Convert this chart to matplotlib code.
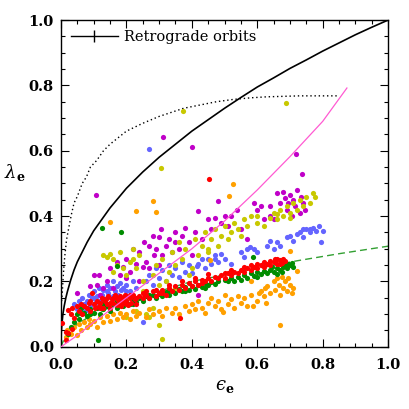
import matplotlib
matplotlib.use("Agg")
import matplotlib.pyplot as plt
import numpy as np
from matplotlib.lines import Line2D
from matplotlib.ticker import MultipleLocator

plt.rcParams['font.family'] = ['DejaVu Serif']
plt.rcParams['mathtext.fontset'] = 'dejavuserif'

# --- curves (eps, lambda) ---
black_eps = [0.0, 0.001, 0.003, 0.006, 0.01, 0.015, 0.02, 0.03, 0.04, 0.05, 0.065, 0.08, 0.1,
             0.125, 0.15, 0.175, 0.2, 0.25, 0.3, 0.35, 0.4, 0.45, 0.5, 0.55, 0.6, 0.65, 0.7,
             0.75, 0.8, 0.85, 0.9, 0.95, 1.0]
black_lam = [0.0, 0.045, 0.07, 0.1, 0.125, 0.15, 0.17, 0.205, 0.235, 0.26, 0.29, 0.32, 0.355,
             0.39, 0.425, 0.455, 0.485, 0.535, 0.58, 0.62, 0.66, 0.695, 0.73, 0.763, 0.795, 0.823,
             0.852, 0.878, 0.905, 0.93, 0.955, 0.978, 1.0]

dot_eps = [0.002, 0.004, 0.006, 0.009, 0.012, 0.017, 0.025, 0.033, 0.04, 0.05, 0.065, 0.078,
           0.09, 0.109, 0.13, 0.15, 0.175, 0.2, 0.25, 0.3, 0.375, 0.425, 0.475, 0.526, 0.58,
           0.628, 0.73, 0.849]
dot_lam = [0.14, 0.163, 0.2, 0.245, 0.28, 0.327, 0.37, 0.41, 0.44, 0.46, 0.5, 0.52,
           0.55, 0.57, 0.6, 0.62, 0.64, 0.66, 0.684, 0.705, 0.73, 0.74, 0.75, 0.757, 0.762,
           0.765, 0.768, 0.768]

pink_eps = [0.0, 0.05, 0.1, 0.2, 0.3, 0.4, 0.5, 0.6, 0.7, 0.8, 0.874]
pink_lam = [0.0, 0.035, 0.075, 0.15, 0.225, 0.3, 0.385, 0.48, 0.582, 0.69, 0.792]

gdash_eps = [0.0, 0.01, 0.02, 0.05, 0.1, 0.2, 0.3, 0.4, 0.5, 0.6, 0.72, 0.85, 1.0]
gdash_lam = [0.0, 0.025, 0.04, 0.07, 0.1, 0.14, 0.17, 0.2, 0.22, 0.24, 0.263, 0.285, 0.308]

# --- galaxies (eps, lambda) per colour ---
blue_pts = [(0.04, 0.13), (0.05, 0.115), (0.055, 0.14), (0.06, 0.12), (0.065, 0.15), (0.07, 0.13),
            (0.075, 0.11), (0.08, 0.14), (0.08, 0.12), (0.085, 0.16), (0.09, 0.125), (0.095, 0.15),
            (0.1, 0.17), (0.1, 0.15), (0.105, 0.135), (0.11, 0.155), (0.115, 0.18), (0.12, 0.14),
            (0.12, 0.16), (0.125, 0.16), (0.13, 0.175), (0.135, 0.145), (0.14, 0.19), (0.14, 0.17),
            (0.145, 0.165), (0.15, 0.18), (0.155, 0.15), (0.16, 0.2), (0.16, 0.155), (0.165, 0.17),
            (0.17, 0.185), (0.175, 0.16), (0.18, 0.195), (0.185, 0.175), (0.19, 0.18), (0.2, 0.19),
            (0.2, 0.17), (0.21, 0.17), (0.22, 0.2), (0.23, 0.18), (0.25, 0.076), (0.269, 0.604),
            (0.26, 0.2), (0.27, 0.22), (0.28, 0.19), (0.29, 0.24), (0.3, 0.21), (0.31, 0.235),
            (0.32, 0.2), (0.33, 0.25), (0.34, 0.22), (0.35, 0.24), (0.36, 0.215), (0.37, 0.26),
            (0.38, 0.23), (0.39, 0.25), (0.4, 0.225), (0.415, 0.246), (0.42, 0.255), (0.43, 0.27),
            (0.44, 0.24), (0.45, 0.27), (0.46, 0.255), (0.47, 0.28), (0.47, 0.27), (0.48, 0.26),
            (0.49, 0.285), (0.5, 0.27), (0.52, 0.255), (0.55, 0.29), (0.56, 0.275), (0.57, 0.3),
            (0.578, 0.307), (0.59, 0.3), (0.6, 0.29), (0.63, 0.31), (0.64, 0.325), (0.65, 0.3),
            (0.66, 0.32), (0.67, 0.31), (0.69, 0.335), (0.7, 0.34), (0.71, 0.325), (0.72, 0.345),
            (0.73, 0.35), (0.74, 0.335), (0.75, 0.36), (0.76, 0.35), (0.77, 0.365), (0.78, 0.355),
            (0.79, 0.37), (0.8, 0.355), (0.795, 0.32), (0.74, 0.36), (0.76, 0.36)]

magenta_pts = [(0.05, 0.165), (0.09, 0.185), (0.1, 0.22), (0.106, 0.464), (0.11, 0.19), (0.115, 0.22),
               (0.12, 0.16), (0.13, 0.18), (0.14, 0.2), (0.15, 0.24), (0.16, 0.18), (0.17, 0.26),
               (0.18, 0.22), (0.19, 0.245), (0.2, 0.27), (0.2, 0.21), (0.21, 0.23), (0.22, 0.3),
               (0.23, 0.255), (0.24, 0.29), (0.24, 0.2), (0.25, 0.245), (0.255, 0.32), (0.26, 0.26),
               (0.27, 0.31), (0.27, 0.24), (0.28, 0.34), (0.285, 0.28), (0.29, 0.3), (0.3, 0.335),
               (0.3, 0.25), (0.305, 0.36), (0.311, 0.643), (0.31, 0.28), (0.32, 0.31), (0.33, 0.33),
               (0.34, 0.29), (0.35, 0.35), (0.35, 0.32), (0.36, 0.3), (0.37, 0.34), (0.38, 0.365),
               (0.39, 0.32), (0.4, 0.28), (0.402, 0.61), (0.41, 0.35), (0.42, 0.158), (0.42, 0.415),
               (0.43, 0.33), (0.45, 0.39), (0.46, 0.36), (0.47, 0.395), (0.48, 0.445), (0.49, 0.38),
               (0.5, 0.4), (0.51, 0.37), (0.52, 0.4), (0.537, 0.42), (0.55, 0.36), (0.57, 0.33),
               (0.59, 0.44), (0.6, 0.42), (0.61, 0.43), (0.62, 0.39), (0.64, 0.4), (0.64, 0.43),
               (0.65, 0.39), (0.66, 0.47), (0.67, 0.44), (0.68, 0.475), (0.685, 0.455), (0.69, 0.42),
               (0.695, 0.44), (0.7, 0.465), (0.705, 0.4), (0.71, 0.45), (0.715, 0.43), (0.718, 0.59),
               (0.72, 0.48), (0.73, 0.41), (0.735, 0.46), (0.738, 0.53), (0.74, 0.44), (0.745, 0.42)]

yellow_pts = [(0.13, 0.28), (0.14, 0.275), (0.15, 0.285), (0.16, 0.27), (0.16, 0.23), (0.17, 0.25),
              (0.18, 0.29), (0.19, 0.24), (0.2, 0.22), (0.2, 0.09), (0.21, 0.26), (0.22, 0.3),
              (0.22, 0.27), (0.23, 0.24), (0.23, 0.11), (0.24, 0.28), (0.25, 0.2), (0.25, 0.17),
              (0.26, 0.1), (0.27, 0.09), (0.28, 0.12), (0.28, 0.22), (0.29, 0.25), (0.3, 0.066),
              (0.3, 0.19), (0.305, 0.546), (0.309, 0.023), (0.31, 0.27), (0.32, 0.2), (0.33, 0.23),
              (0.34, 0.29), (0.35, 0.25), (0.35, 0.18), (0.36, 0.32), (0.37, 0.27), (0.372, 0.722),
              (0.38, 0.3), (0.39, 0.22), (0.4, 0.24), (0.41, 0.33), (0.42, 0.28), (0.43, 0.31),
              (0.44, 0.35), (0.45, 0.3), (0.45, 0.29), (0.46, 0.33), (0.47, 0.36), (0.48, 0.31),
              (0.49, 0.34), (0.5, 0.37), (0.51, 0.33), (0.52, 0.35), (0.53, 0.38), (0.54, 0.36),
              (0.55, 0.34), (0.56, 0.39), (0.57, 0.37), (0.58, 0.4), (0.6, 0.38), (0.6, 0.4),
              (0.62, 0.37), (0.64, 0.395), (0.65, 0.41), (0.66, 0.39), (0.66, 0.405), (0.67, 0.42),
              (0.68, 0.4), (0.688, 0.745), (0.69, 0.43), (0.7, 0.41), (0.7, 0.395), (0.71, 0.44),
              (0.72, 0.42), (0.73, 0.45), (0.74, 0.43), (0.75, 0.46), (0.76, 0.44), (0.77, 0.47),
              (0.775, 0.46)]

orange_pts = [(0.015, 0.03), (0.02, 0.05), (0.03, 0.04), (0.04, 0.06), (0.05, 0.035), (0.055, 0.07),
              (0.06, 0.05), (0.07, 0.075), (0.08, 0.06), (0.085, 0.085), (0.09, 0.07), (0.1, 0.08),
              (0.11, 0.06), (0.12, 0.09), (0.13, 0.075), (0.14, 0.095), (0.15, 0.08), (0.15, 0.383),
              (0.16, 0.1), (0.17, 0.085), (0.18, 0.105), (0.19, 0.09), (0.2, 0.1), (0.21, 0.085),
              (0.22, 0.11), (0.23, 0.095), (0.23, 0.416), (0.24, 0.105), (0.26, 0.09), (0.27, 0.115),
              (0.28, 0.1), (0.28, 0.446), (0.289, 0.413), (0.3, 0.11), (0.31, 0.095), (0.32, 0.12),
              (0.34, 0.105), (0.35, 0.12), (0.36, 0.1), (0.38, 0.125), (0.39, 0.11), (0.4, 0.13),
              (0.41, 0.115), (0.42, 0.14), (0.43, 0.12), (0.44, 0.105), (0.45, 0.135), (0.455, 0.267),
              (0.46, 0.15), (0.47, 0.125), (0.48, 0.14), (0.49, 0.115), (0.496, 0.107), (0.5, 0.16),
              (0.51, 0.13), (0.515, 0.462), (0.52, 0.145), (0.527, 0.497), (0.53, 0.12), (0.54, 0.155),
              (0.55, 0.135), (0.56, 0.15), (0.57, 0.125), (0.58, 0.16), (0.582, 0.2), (0.588, 0.124),
              (0.6, 0.14), (0.605, 0.165), (0.61, 0.17), (0.62, 0.155), (0.625, 0.18), (0.628, 0.134),
              (0.63, 0.185), (0.64, 0.165), (0.65, 0.2), (0.655, 0.175), (0.66, 0.21), (0.665, 0.19),
              (0.669, 0.066), (0.67, 0.16), (0.675, 0.215), (0.68, 0.18), (0.685, 0.2), (0.69, 0.17),
              (0.695, 0.21), (0.699, 0.294), (0.7, 0.19), (0.705, 0.165), (0.71, 0.18), (0.72, 0.233)]

green_pts = [(0.022, 0.04), (0.03, 0.06), (0.04, 0.075), (0.05, 0.1), (0.055, 0.085), (0.06, 0.12),
             (0.06, 0.105), (0.07, 0.105), (0.08, 0.095), (0.09, 0.115), (0.09, 0.1), (0.1, 0.105),
             (0.11, 0.12), (0.114, 0.02), (0.12, 0.1), (0.126, 0.364), (0.13, 0.115), (0.13, 0.13),
             (0.14, 0.125), (0.15, 0.11), (0.16, 0.13), (0.17, 0.12), (0.17, 0.14), (0.172, 0.247),
             (0.18, 0.135), (0.183, 0.352), (0.19, 0.125), (0.2, 0.14), (0.21, 0.13), (0.22, 0.145),
             (0.22, 0.13), (0.23, 0.138), (0.24, 0.15), (0.25, 0.14), (0.26, 0.155), (0.27, 0.148),
             (0.27, 0.16), (0.28, 0.16), (0.29, 0.15), (0.3, 0.162), (0.31, 0.155), (0.32, 0.168),
             (0.33, 0.16), (0.33, 0.175), (0.34, 0.172), (0.35, 0.165), (0.36, 0.178), (0.37, 0.17),
             (0.38, 0.182), (0.38, 0.17), (0.39, 0.175), (0.4, 0.185), (0.41, 0.178), (0.42, 0.19),
             (0.43, 0.182), (0.44, 0.195), (0.44, 0.18), (0.45, 0.188), (0.46, 0.198), (0.47, 0.192),
             (0.48, 0.2), (0.5, 0.205), (0.51, 0.2), (0.52, 0.21), (0.53, 0.2), (0.54, 0.215),
             (0.55, 0.205), (0.56, 0.22), (0.57, 0.212), (0.58, 0.225), (0.587, 0.276), (0.59, 0.218),
             (0.6, 0.228), (0.6, 0.215), (0.61, 0.222), (0.62, 0.232), (0.63, 0.225), (0.64, 0.235),
             (0.645, 0.245), (0.65, 0.23), (0.66, 0.24), (0.66, 0.222), (0.67, 0.235), (0.675, 0.228),
             (0.68, 0.245), (0.685, 0.25), (0.69, 0.24), (0.695, 0.255), (0.7, 0.25), (0.705, 0.258),
             (0.71, 0.245)]

red_pts = [(0.002, 0.073), (0.014, 0.022), (0.015, 0.045), (0.022, 0.041), (0.022, 0.112), (0.03, 0.1),
           (0.033, 0.056), (0.035, 0.12), (0.04, 0.088), (0.05, 0.125), (0.055, 0.11), (0.06, 0.13),
           (0.065, 0.1), (0.07, 0.125), (0.08, 0.118), (0.085, 0.135), (0.09, 0.11), (0.09, 0.14),
           (0.095, 0.165), (0.1, 0.13), (0.105, 0.12), (0.11, 0.14), (0.115, 0.125), (0.12, 0.135),
           (0.12, 0.12), (0.125, 0.15), (0.13, 0.118), (0.13, 0.145), (0.135, 0.14), (0.14, 0.13),
           (0.14, 0.15), (0.145, 0.155), (0.15, 0.12), (0.15, 0.135), (0.155, 0.145), (0.16, 0.135),
           (0.16, 0.148), (0.165, 0.16), (0.17, 0.128), (0.17, 0.15), (0.172, 0.148), (0.175, 0.142),
           (0.178, 0.138), (0.18, 0.155), (0.18, 0.13), (0.185, 0.125), (0.188, 0.145), (0.19, 0.135),
           (0.19, 0.15), (0.195, 0.16), (0.2, 0.14), (0.2, 0.155), (0.2, 0.13), (0.205, 0.128),
           (0.21, 0.15), (0.21, 0.16), (0.215, 0.135), (0.22, 0.158), (0.225, 0.145), (0.23, 0.13),
           (0.23, 0.15), (0.24, 0.155), (0.25, 0.148), (0.25, 0.165), (0.26, 0.16), (0.26, 0.17),
           (0.27, 0.15), (0.28, 0.17), (0.29, 0.155), (0.29, 0.175), (0.3, 0.165), (0.31, 0.175),
           (0.31, 0.165), (0.32, 0.16), (0.33, 0.18), (0.33, 0.19), (0.34, 0.17), (0.35, 0.185),
           (0.36, 0.175), (0.364, 0.087), (0.37, 0.19), (0.37, 0.2), (0.38, 0.18), (0.39, 0.195),
           (0.4, 0.185), (0.41, 0.2), (0.41, 0.21), (0.42, 0.19), (0.43, 0.205), (0.43, 0.195),
           (0.44, 0.2), (0.45, 0.21), (0.45, 0.222), (0.453, 0.515), (0.46, 0.2), (0.47, 0.215),
           (0.48, 0.21), (0.49, 0.22), (0.5, 0.21), (0.5, 0.225), (0.51, 0.225), (0.52, 0.22),
           (0.52, 0.235), (0.53, 0.23), (0.54, 0.225), (0.55, 0.235), (0.56, 0.228), (0.56, 0.245),
           (0.57, 0.24), (0.58, 0.235), (0.58, 0.25), (0.59, 0.245), (0.6, 0.24), (0.6, 0.252),
           (0.61, 0.25), (0.62, 0.245), (0.62, 0.26), (0.63, 0.255), (0.64, 0.25), (0.64, 0.262),
           (0.65, 0.26), (0.655, 0.27), (0.66, 0.255), (0.66, 0.27), (0.67, 0.265), (0.67, 0.255),
           (0.675, 0.258), (0.68, 0.27), (0.685, 0.262)]

fig = plt.figure(figsize=(4.09, 4.09), dpi=100)
ax = fig.add_axes([0.149, 0.152, 0.800, 0.799])

ax.plot(black_eps, black_lam, color='black', lw=1.2, zorder=2)
ax.plot(dot_eps, dot_lam, color='black', lw=1.0, ls=(0, (1, 2)), zorder=2)
ax.plot(gdash_eps, gdash_lam, color='#33a033', lw=1.0, ls=(0, (5, 3)), zorder=2)

groups = [(blue_pts, '#6464ff'), (magenta_pts, '#c000c8'), (yellow_pts, '#c8c800'),
          (orange_pts, '#ffa000'), (green_pts, '#008c00'), (red_pts, '#ff0000')]
for pts, col in groups:
    arr = np.array(pts)
    ax.scatter(arr[:, 0], arr[:, 1], s=14, color=col, linewidths=0, zorder=3)

ax.plot(pink_eps, pink_lam, color='#ff5ad2', lw=0.9, zorder=4)

ax.set_xlim(0, 1)
ax.set_ylim(0, 1)
ax.xaxis.set_major_locator(MultipleLocator(0.2))
ax.yaxis.set_major_locator(MultipleLocator(0.2))
ax.xaxis.set_minor_locator(MultipleLocator(0.05))
ax.yaxis.set_minor_locator(MultipleLocator(0.05))
ax.tick_params(which='both', direction='in', top=True, right=True, width=0.8)
ax.tick_params(which='major', length=6, labelsize=10.5, pad=5)
ax.tick_params(axis='x', which='major', pad=8)
ax.tick_params(which='minor', length=3)
for lab in ax.get_xticklabels() + ax.get_yticklabels():
    lab.set_fontweight('bold')
for sp in ax.spines.values():
    sp.set_linewidth(1.0)

ax.set_xlabel('$\u03f5_{\\mathbf{e}}$', fontsize=13, labelpad=4)
ax.set_ylabel(r'$\lambda_{\mathbf{e}}$', fontsize=13, rotation=0, labelpad=10)

handle = Line2D([], [], color='black', lw=1.0, marker='|', markersize=9, markeredgewidth=1.0)
ax.legend([handle], ['Retrograde orbits'], loc='upper left', frameon=False,
          fontsize=10.5, handlelength=3.2, borderaxespad=0.3, handletextpad=0.4)

fig.savefig('out.png', dpi=100)
